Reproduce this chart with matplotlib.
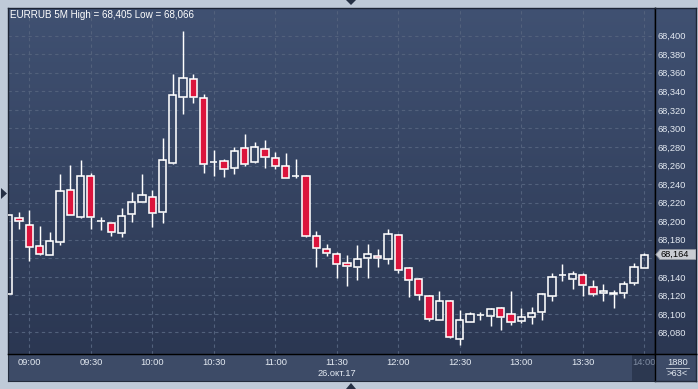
import matplotlib
matplotlib.use("Agg")
import matplotlib.pyplot as plt
import numpy as np
from matplotlib.patches import Rectangle, Polygon
from matplotlib.colors import LinearSegmentedColormap
from matplotlib import transforms

# ---------------- data ----------------
times = ["08:50", "08:55", "09:00", "09:05", "09:10", "09:15", "09:20", "09:25", "09:30", "09:35",
         "09:40", "09:45", "09:50", "09:55", "10:00", "10:05", "10:10", "10:15", "10:20", "10:25",
         "10:30", "10:35", "10:40", "10:45", "10:50", "10:55", "11:00", "11:05", "11:10", "11:15",
         "11:20", "11:25", "11:30", "11:35", "11:40", "11:45", "11:50", "11:55", "12:00", "12:05",
         "12:10", "12:15", "12:20", "12:25", "12:30", "12:35", "12:40", "12:45", "12:50", "12:55",
         "13:00", "13:05", "13:10", "13:15", "13:20", "13:25", "13:30", "13:35", "13:40", "13:45",
         "13:50", "13:55", "14:00"]

opens = [68.121, 68.203, 68.196, 68.173, 68.164, 68.178, 68.234, 68.205, 68.249, 68.200,
         68.198, 68.187, 68.208, 68.221, 68.226, 68.210, 68.263, 68.334, 68.353, 68.333,
         68.264, 68.265, 68.257, 68.279, 68.264, 68.278, 68.268, 68.260, 68.249, 68.249,
         68.184, 68.170, 68.165, 68.155, 68.151, 68.160, 68.162, 68.159, 68.185, 68.149,
         68.138, 68.119, 68.093, 68.114, 68.073, 68.091, 68.099, 68.098, 68.106, 68.100,
         68.092, 68.097, 68.102, 68.119, 68.142, 68.138, 68.142, 68.129, 68.123, 68.123,
         68.123, 68.133, 68.150]
highs = [68.207, 68.210, 68.212, 68.195, 68.188, 68.251, 68.261, 68.266, 68.252, 68.205,
         68.198, 68.214, 68.231, 68.251, 68.234, 68.290, 68.359, 68.405, 68.359, 68.337,
         68.277, 68.267, 68.280, 68.294, 68.285, 68.288, 68.275, 68.274, 68.267, 68.250,
         68.189, 68.175, 68.167, 68.163, 68.174, 68.175, 68.170, 68.192, 68.186, 68.151,
         68.139, 68.120, 68.125, 68.115, 68.104, 68.102, 68.102, 68.106, 68.107, 68.125,
         68.106, 68.107, 68.123, 68.144, 68.154, 68.146, 68.144, 68.137, 68.132, 68.126,
         68.135, 68.155, 68.166]
lows = [68.121, 68.192, 68.157, 68.164, 68.164, 68.174, 68.207, 68.203, 68.192, 68.190,
        68.184, 68.183, 68.199, 68.221, 68.194, 68.198, 68.262, 68.316, 68.327, 68.252,
        68.249, 68.248, 68.251, 68.260, 68.263, 68.257, 68.256, 68.246, 68.246, 68.183,
        68.151, 68.162, 68.139, 68.130, 68.137, 68.139, 68.151, 68.154, 68.144, 68.118,
        68.115, 68.092, 68.093, 68.074, 68.066, 68.091, 68.093, 68.087, 68.083, 68.088,
        68.090, 68.089, 68.093, 68.114, 68.135, 68.127, 68.119, 68.119, 68.114, 68.106,
        68.117, 68.131, 68.150]
closes = [68.207, 68.200, 68.172, 68.165, 68.179, 68.233, 68.207, 68.249, 68.205, 68.200,
          68.188, 68.206, 68.221, 68.228, 68.209, 68.266, 68.336, 68.354, 68.334, 68.262,
          68.264, 68.256, 68.276, 68.262, 68.280, 68.269, 68.259, 68.247, 68.249, 68.184,
          68.171, 68.166, 68.154, 68.152, 68.159, 68.165, 68.160, 68.186, 68.147, 68.137,
          68.120, 68.094, 68.114, 68.075, 68.093, 68.100, 68.099, 68.105, 68.097, 68.091,
          68.097, 68.101, 68.121, 68.140, 68.142, 68.143, 68.131, 68.121, 68.125, 68.121,
          68.132, 68.151, 68.164]

x_tick_labels = ["09:00", "09:30", "10:00", "10:30", "11:00", "11:30", "12:00",
                 "12:30", "13:00", "13:30", "14:00"]
y_ticks = [68.08, 68.10, 68.12, 68.14, 68.16, 68.18, 68.20, 68.22, 68.24,
           68.26, 68.28, 68.30, 68.32, 68.34, 68.36, 68.38, 68.40]

title = "EURRUB 5M High = 68,405 Low = 68,066"
date_label = "26.окт.17"
corner_top = "1880"
corner_bottom = ">63<"

# ---------------- figure ----------------
W, H = 698, 389
FONT = "Liberation Sans"
FS = 6.7
plt.rcParams["font.family"] = [FONT, "DejaVu Sans"]

fig = plt.figure(figsize=(W / 100, H / 100), dpi=100, facecolor="#bfcad8")


def px_axes(x0, y0, x1, y1):
    return fig.add_axes([x0 / W, 1 - y1 / H, (x1 - x0) / W, (y1 - y0) / H])


def fig_pt(x, y):
    return (x / W, 1 - y / H)


ax_b = px_axes(8, 354, 696, 381)
ax = px_axes(8, 8, 655, 354)
ax_r = px_axes(655, 8, 696, 354)
ax_c = px_axes(655, 354, 696, 381)
ax_b.set_zorder(0)
ax.set_zorder(1)
ax_r.set_zorder(2)
ax_c.set_zorder(3)

grad_cmap = LinearSegmentedColormap.from_list("bg", ["#2b3752", "#405172"])
grad = np.linspace(0, 1, 256).reshape(-1, 1)

# bottom panel
ax_b.set_facecolor("#3d4b67")
ax_b.set_xticks([])
ax_b.set_yticks([])
for s in ax_b.spines.values():
    s.set_color("#222b3c")
    s.set_linewidth(0.8)
# highlight box behind the last time label
fig.patches.append(Rectangle(fig_pt(632, 381), 23 / W, 27 / H, transform=fig.transFigure,
                             facecolor="#2c3850", edgecolor="none", zorder=0.5))

# main axes
ax.imshow(grad, extent=[0, 1, 0, 1], transform=ax.transAxes, cmap=grad_cmap,
          aspect="auto", origin="lower", zorder=0)

x = np.arange(len(times))
o = np.array(opens)
c = np.array(closes)
hi = np.array(highs)
lo = np.array(lows)
top = np.maximum(o, c)
bot = np.minimum(o, c)
down = c < o

ax.vlines(x, top, hi, color="white", linewidth=1.05, zorder=3)
ax.vlines(x, lo, bot, color="white", linewidth=1.05, zorder=3)
face = ["#dc143c" if d else "none" for d in down]
ax.bar(x, top - bot, bottom=bot, width=0.71, color=face, edgecolor="white",
       linewidth=1.15, zorder=4)

ax.set_xlim(-0.08, 63.04)
ax.set_ylim(68.0568, 68.4298)

xt = [times.index(t) for t in x_tick_labels]
ax.set_xticks(xt)
ax.set_xticklabels(x_tick_labels)
ax.set_yticks(y_ticks)
ax.tick_params(axis="x", length=0, pad=3.0, labelsize=FS, colors="#e4eaf2")
ax.tick_params(axis="y", length=0, left=False, labelleft=False)
ax.get_xticklabels()[-1].set_color("#7f8ca2")
ax.grid(True, color="#52617c", linestyle=(0, (3, 3)), linewidth=0.8, zorder=1)
ax.set_axisbelow(True)
for name, s in ax.spines.items():
    s.set_linewidth(1.0)
    s.set_color("black" if name in ("right", "bottom") else "#1d2535")

# date label centred under the middle tick
tr = transforms.blended_transform_factory(ax.transData, fig.transFigure)
ax.text(times.index("11:30"), 1 - 374 / H, date_label, transform=tr, ha="center",
        va="center", fontsize=FS, color="#e4eaf2", clip_on=False)

# title
fig.text(10 / W, 1 - 15.5 / H, title, ha="left", va="center", fontsize=7.1,
         color="white", zorder=10)

# right price panel
last = closes[-1]
ax_r.imshow(grad, extent=[0, 1, 0, 1], transform=ax_r.transAxes, cmap=grad_cmap,
            aspect="auto", origin="lower", zorder=0)
ax_r.set_xlim(0, 1)
ax_r.set_ylim(ax.get_ylim())
ax_r.set_xticks([])
ax_r.set_yticks(y_ticks)
# the tick label hidden behind the last-price marker is left blank
ax_r.set_yticklabels(["" if abs(v - last) < 0.008 else f"{v:.3f}".replace(".", ",")
                      for v in y_ticks])
ax_r.yaxis.tick_left()
ax_r.tick_params(axis="y", length=0, pad=-1.6, labelsize=FS, colors="#e4eaf2")
for lab in ax_r.get_yticklabels():
    lab.set_horizontalalignment("left")
for name, s in ax_r.spines.items():
    s.set_linewidth(1.0)
    s.set_color("black" if name == "left" else "#1d2535")

# last price marker
trr = transforms.blended_transform_factory(ax_r.transAxes, ax_r.transData)
hh = 0.0054
ax_r.add_patch(Polygon([(0.02, last), (0.12, last + hh), (1.0, last + hh),
                        (1.0, last - hh), (0.12, last - hh)], closed=True,
                       transform=trr, facecolor="#c9ccd3", edgecolor="#8e949d",
                       linewidth=0.6, zorder=5))
ax_r.text(0.14, last, f"{last:.3f}".replace(".", ","), transform=trr, ha="left",
          va="center", fontsize=FS, color="black", zorder=6)

# corner panel
ax_c.set_facecolor("#3d4b67")
ax_c.set_xticks([])
ax_c.set_yticks([])
ax_c.set_xlim(0, 1)
ax_c.set_ylim(0, 1)
for name, s in ax_c.spines.items():
    s.set_linewidth(1.0)
    s.set_color("black" if name in ("left", "top") else "#222b3c")
ax_c.text(0.55, 0.68, corner_top, ha="center", va="center", fontsize=FS, color="#e4eaf2")
ax_c.plot([0.27, 0.83], [0.47, 0.47], color="#c8d0dc", linewidth=0.6)
ax_c.text(0.53, 0.26, corner_bottom, ha="center", va="center", fontsize=FS, color="#e4eaf2")

# small navigation triangles in the frame
tri_col = "#253044"
for pts in ([(346, 0), (356, 0), (351, 5)],
            [(1, 188), (1, 199), (7, 193.5)],
            [(346, 389), (356, 389), (351, 383)]):
    fig.patches.append(Polygon([fig_pt(px, py) for px, py in pts], closed=True,
                               transform=fig.transFigure, facecolor=tri_col,
                               edgecolor="none"))

fig.savefig("out.png", dpi=100, facecolor=fig.get_facecolor())
